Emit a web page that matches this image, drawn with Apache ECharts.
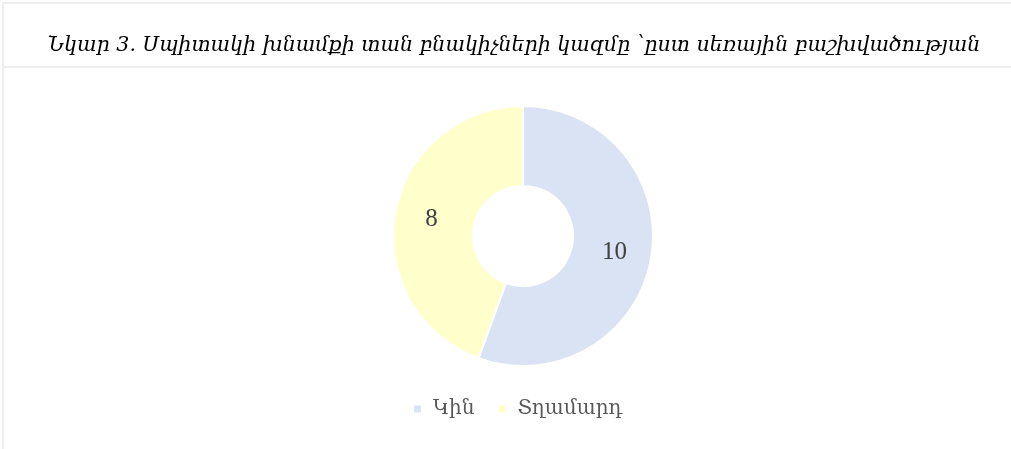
<!DOCTYPE html>
<html>
<head>
<meta charset="utf-8">
<script src="https://cdn.jsdelivr.net/npm/echarts@6/dist/echarts.min.js"></script>
<style>
  html, body { margin: 0; padding: 0; background: #fff; }
  #main { width: 1011px; height: 449px; }
</style>
</head>
<body>
<div id="main"></div>
<script>
// data
const titleText = "Նկար 3. Սպիտակի խնամքի տան բնակիչների կազմը ՝ըստ սեռային բաշխվածության";
const categories = ["Կին", "Տղամարդ"];
const values = [10, 8];
const colors = ["#dae3f3", "#ffffcc"];

const chart = echarts.init(document.getElementById("main"));

const option = {
  backgroundColor: "#ffffff",
  animation: false,
  color: colors,
  title: {
    text: titleText,
    left: 509,
    textAlign: "center",
    top: 30,
    textStyle: {
      fontFamily: "DejaVu Serif",
      fontStyle: "italic",
      fontWeight: "normal",
      fontSize: 20.6,
      color: "#000000"
    }
  },
  legend: {
    top: 394,
    left: 407,
    icon: "rect",
    itemWidth: 9,
    itemHeight: 9,
    itemGap: 22,
    textStyle: {
      fontFamily: "DejaVu Serif",
      fontSize: 20,
      color: "#595959",
      padding: [0, 0, 0, 6]
    },
    data: categories
  },
  graphic: [
    // page frame lines from the document
    { type: "rect", shape: { x: 4, y: 2, width: 1007, height: 2 }, style: { fill: "#eeeeee" } },
    { type: "rect", shape: { x: 2, y: 2, width: 2, height: 447 }, style: { fill: "#eeeeee" } },
    { type: "rect", shape: { x: 4, y: 66, width: 1007, height: 2 }, style: { fill: "#eeeeee" } }
  ],
  series: [
    {
      type: "pie",
      center: [523, 236],
      radius: [50, 130],
      startAngle: 90,
      clockwise: true,
      itemStyle: { borderColor: "#ffffff", borderWidth: 2 },
      label: {
        show: true,
        position: "inside",
        formatter: "{c}",
        fontFamily: "Liberation Serif",
        fontSize: 25,
        color: "#404040"
      },
      labelLine: { show: false },
      emphasis: { disabled: true },
      data: categories.map((name, i) => ({ name: name, value: values[i] }))
    }
  ]
};

chart.setOption(option);
</script>
</body>
</html>
